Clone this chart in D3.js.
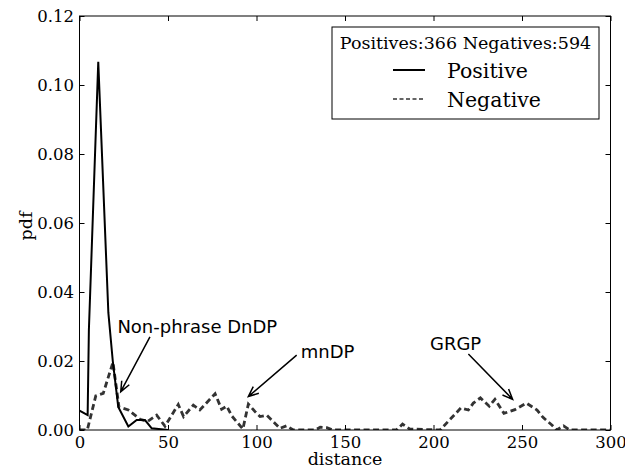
<!DOCTYPE html>
<html>
<head>
<meta charset="utf-8">
<script src="https://cdn.jsdelivr.net/npm/d3@7"></script>
<style>
  body { margin: 0; background: #fff; }
  svg { display: block; }
</style>
</head>
<body>
<div class="chartwrap"></div>
<script>
var width = 625, height = 469;

// positive pdf (distance, pdf)
var posDist = [0, 4.6, 5.3, 10.6, 16.3, 18.8, 21.9, 27.6, 32.3, 37, 40.8, 50];
var posPdf  = [0.0056, 0.0043, 0.029, 0.1067, 0.034, 0.020, 0.0067, 0.001, 0.0029, 0.0029, 0.0005, 0];

// negative pdf (distance, pdf)
var negDist = [0, 4.4, 9.2, 13.4, 18.9, 22.3, 27.6, 34.2, 38.5, 43.6, 48.3, 55.8, 58.8, 64.3, 68,
               76.6, 80.3, 83.2, 86, 92.3, 95.4, 99.4, 102, 105.8, 113.3, 117, 120.8, 133,
               136, 139.7, 143, 179, 182.5, 186.5, 203.7, 215.5, 219.7, 222.5, 226.5, 231.5,
               234.7, 239.8, 246, 252.5, 258.5, 262, 267, 269.6, 273.5, 277, 300];
var negPdf  = [0, 0, 0.0099, 0.0106, 0.0196, 0.0067, 0.0058, 0.0031, 0.0025, 0.0043, 0.0011, 0.0074, 0.0039, 0.0072, 0.0058,
               0.0105, 0.006, 0.0069, 0.0041, 0.0003, 0.0075, 0.0052, 0.0039, 0.0043, 0.0005, 0.0012, 0, 0,
               0.0008, 0.0007, 0, 0, 0.0017, 0.0003, 0, 0.0064, 0.0058, 0.0078, 0.0093, 0.0069,
               0.0089, 0.0048, 0.0059, 0.0078, 0.0058, 0.0036, 0.0014, 0, 0.0012, 0, 0];

var xTicks = [0, 50, 100, 150, 200, 250, 300];
var yTicks = [0, 0.02, 0.04, 0.06, 0.08, 0.10, 0.12];

var legendTitle = "Positives:366 Negatives:594";
var seriesNames = ["Positive", "Negative"];

// annotations: label, text anchor, arrow tail, arrow tip (data coords)
var annoLabels = ["Non-phrase DnDP", "mnDP", "GRGP"];
var annoText = [[21.4, 0.0280], [125, 0.0209], [198, 0.0233]];
var annoTail = [[39.8, 0.0270], [122.7, 0.0217], [219.7, 0.0220]];
var annoTip  = [[23.3, 0.0111], [95.4, 0.0097], [244.7, 0.0089]];

var margin = {top: 16, left: 79.5, right: 14.5, bottom: 39};
var pw = width - margin.left - margin.right,
    ph = height - margin.top - margin.bottom;

var svg = d3.select(".chartwrap").append("svg")
    .attr("width", width)
    .attr("height", height);

var g = svg.append("g")
    .attr("transform", "translate(" + margin.left + "," + margin.top + ")");

var x = d3.scaleLinear().domain([0, 300]).range([0, pw]);
var y = d3.scaleLinear().domain([0, 0.12]).range([ph, 0]);

var serif = "'DejaVu Serif', serif",
    sans = "'DejaVu Sans', sans-serif";

// lines
var line = d3.line()
    .x(function(d) { return x(d[0]); })
    .y(function(d) { return y(d[1]); });

var negData = negDist.map(function(d, i) { return [d, negPdf[i]]; });
var posData = posDist.map(function(d, i) { return [d, posPdf[i]]; });

svg.append("clipPath").attr("id", "plotclip")
    .append("rect").attr("width", pw).attr("height", ph);

g.append("path")
    .datum(negData)
    .attr("clip-path", "url(#plotclip)")
    .attr("fill", "none")
    .attr("stroke", "#333")
    .attr("stroke-width", 2.8)
    .attr("stroke-dasharray", "6,3.5")
    .attr("d", line);

g.append("path")
    .datum(posData)
    .attr("clip-path", "url(#plotclip)")
    .attr("fill", "none")
    .attr("stroke", "#000")
    .attr("stroke-width", 2)
    .attr("d", line);

// axes, ticks inside on all four sides
var tl = 5;
function styleAxis(sel) {
    sel.select(".domain").remove();
    sel.selectAll(".tick line").attr("stroke", "#000");
    sel.selectAll(".tick text")
        .attr("fill", "#000")
        .style("font-family", serif)
        .style("font-size", "16.5px");
}

g.append("g")
    .attr("transform", "translate(0," + ph + ")")
    .call(d3.axisBottom(x).tickValues(xTicks).tickSize(-tl).tickPadding(6)
        .tickFormat(d3.format("d")))
    .call(styleAxis);

g.append("g")
    .call(d3.axisTop(x).tickValues(xTicks).tickSize(-tl).tickFormat(""))
    .call(styleAxis);

g.append("g")
    .call(d3.axisLeft(y).tickValues(yTicks).tickSize(-tl).tickPadding(5.5)
        .tickFormat(d3.format(".2f")))
    .call(styleAxis);

g.append("g")
    .attr("transform", "translate(" + pw + ",0)")
    .call(d3.axisRight(y).tickValues(yTicks).tickSize(-tl).tickFormat(""))
    .call(styleAxis);

g.append("rect")
    .attr("width", pw)
    .attr("height", ph)
    .attr("fill", "none")
    .attr("stroke", "#000")
    .attr("stroke-width", 1);

// axis labels
svg.append("text")
    .attr("x", margin.left + pw / 2)
    .attr("y", 465)
    .attr("text-anchor", "middle")
    .style("font-family", serif)
    .style("font-size", "17.5px")
    .text("distance");

svg.append("text")
    .attr("transform", "translate(32,226) rotate(-90)")
    .attr("text-anchor", "middle")
    .style("font-family", serif)
    .style("font-size", "17.5px")
    .text("pdf");

// annotations
var anno = g.selectAll(".anno")
    .data(annoLabels)
    .enter().append("g")
    .attr("class", "anno");

anno.append("text")
    .attr("x", function(d, i) { return x(annoText[i][0]); })
    .attr("y", function(d, i) { return y(annoText[i][1]); })
    .style("font-family", sans)
    .style("font-size", "18px")
    .text(function(d) { return d; });

anno.append("path")
    .attr("fill", "none")
    .attr("stroke", "#000")
    .attr("stroke-width", 1.5)
    .attr("d", function(d, i) {
        var x0 = x(annoTail[i][0]), y0 = y(annoTail[i][1]),
            x1 = x(annoTip[i][0]), y1 = y(annoTip[i][1]);
        var a = Math.atan2(y1 - y0, x1 - x0), hl = 11, ha = 0.4;
        var p1 = [x1 - hl * Math.cos(a - ha), y1 - hl * Math.sin(a - ha)],
            p2 = [x1 - hl * Math.cos(a + ha), y1 - hl * Math.sin(a + ha)];
        return "M" + x0 + "," + y0 + "L" + x1 + "," + y1 +
            "M" + p1[0] + "," + p1[1] + "L" + x1 + "," + y1 + "L" + p2[0] + "," + p2[1];
    });

// legend
var legend = svg.append("g").attr("class", "legend");

legend.append("rect")
    .attr("x", 332)
    .attr("y", 27)
    .attr("width", 267)
    .attr("height", 92)
    .attr("fill", "#fff")
    .attr("stroke", "#000")
    .attr("stroke-width", 1);

legend.append("text")
    .attr("x", 465.5)
    .attr("y", 48.5)
    .attr("text-anchor", "middle")
    .style("font-family", serif)
    .style("font-size", "17.5px")
    .text(legendTitle);

var items = legend.selectAll(".item")
    .data(seriesNames)
    .enter().append("g")
    .attr("class", "item")
    .attr("transform", function(d, i) { return "translate(0," + (70 + i * 29) + ")"; });

items.append("line")
    .attr("x1", 393)
    .attr("x2", 425)
    .attr("stroke", function(d, i) { return i ? "#333" : "#000"; })
    .attr("stroke-width", function(d, i) { return i ? 1.5 : 2; })
    .attr("stroke-dasharray", function(d, i) { return i ? "4,2.5" : null; });

items.append("text")
    .attr("x", 447)
    .attr("y", 8)
    .style("font-family", serif)
    .style("font-size", "20.5px")
    .text(function(d) { return d; });
</script>
</body>
</html>
